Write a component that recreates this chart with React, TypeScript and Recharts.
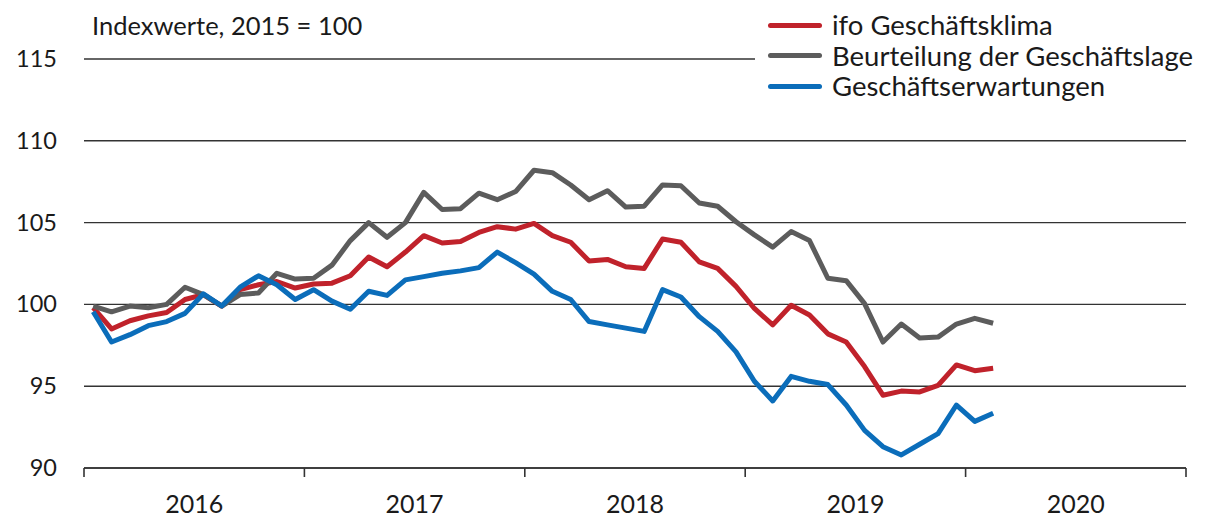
import React from 'react';
import {
  LineChart,
  Line,
  XAxis,
  YAxis,
  CartesianGrid,
} from 'recharts';

// months since Jan 2016, Jan 2016 .. Feb 2020
const klima = [
  99.8, 98.5, 99.0, 99.3, 99.5, 100.3, 100.6, 99.9, 100.9, 101.2, 101.4, 101.0,
  101.25, 101.3, 101.75, 102.9, 102.3, 103.2, 104.2, 103.75, 103.85, 104.4, 104.75, 104.6,
  104.95, 104.2, 103.8, 102.65, 102.75, 102.3, 102.2, 104.0, 103.8, 102.6, 102.2, 101.1,
  99.75, 98.75, 99.95, 99.35, 98.2, 97.7, 96.2, 94.45, 94.7, 94.65, 95.05, 96.3,
  95.95, 96.1,
];

const lage = [
  99.9, 99.55, 99.9, 99.8, 100.0, 101.05, 100.6, 99.9, 100.6, 100.7, 101.9, 101.55,
  101.6, 102.4, 103.9, 105.0, 104.1, 105.0, 106.85, 105.8, 105.85, 106.8, 106.4, 106.9,
  108.2, 108.05, 107.3, 106.4, 106.95, 105.95, 106.0, 107.3, 107.25, 106.2, 106.0, 105.05,
  104.25, 103.5, 104.45, 103.9, 101.6, 101.45, 100.05, 97.7, 98.8, 97.95, 98.0, 98.8,
  99.15, 98.85,
];

const erwartungen = [
  99.55, 97.7, 98.15, 98.7, 98.95, 99.45, 100.65, 99.9, 101.05, 101.75, 101.2, 100.3,
  100.9, 100.2, 99.7, 100.8, 100.55, 101.5, 101.7, 101.9, 102.05, 102.25, 103.2, 102.55,
  101.85, 100.8, 100.3, 98.95, 98.75, 98.55, 98.35, 100.9, 100.45, 99.25, 98.35, 97.1,
  95.3, 94.1, 95.6, 95.3, 95.1, 93.85, 92.3, 91.3, 90.8, 91.45, 92.1, 93.85,
  92.85, 93.35,
];

const years = ['2016', '2017', '2018', '2019', '2020'];
const yearTicks = [0, 12, 24, 36, 48, 60];
const yTicks = [90, 95, 100, 105, 110, 115];

const seriesInfo = [
  { key: 'klima', name: 'ifo Geschäftsklima', color: '#c0222b' },
  { key: 'lage', name: 'Beurteilung der Geschäftslage', color: '#5c5c5c' },
  { key: 'erwartungen', name: 'Geschäftserwartungen', color: '#0b6dba' },
];

const data = klima.map((v, i) => ({
  m: i + 0.5,
  klima: v,
  lage: lage[i],
  erwartungen: erwartungen[i],
}));

const FONT = 'Lato, "Noto Sans", sans-serif';
const YEAR_PX = (1186 - 84) / 5;

const YearTick = (props: any) => {
  const { x, y, payload } = props;
  const idx = yearTicks.indexOf(payload.value);
  if (idx < 0 || idx >= years.length) return null;
  return (
    <text x={x + YEAR_PX / 2} y={y + 34} textAnchor="middle" fontSize={25} fill="#1a1a1a" fontFamily={FONT}>
      {years[idx]}
    </text>
  );
};

const ValueTick = (props: any) => {
  const { y, payload } = props;
  return (
    <text x={57} y={y + 8} textAnchor="end" fontSize={23.5} fill="#1a1a1a" fontFamily={FONT}>
      {payload.value}
    </text>
  );
};

export default function App() {
  return (
    <div style={{ position: 'absolute', left: 0, top: 0, width: 1206, height: 518, background: '#fff' }}>
      <LineChart width={1206} height={518} data={data} margin={{ top: 59, right: 20, bottom: 10, left: 0 }}>
        <CartesianGrid vertical={false} stroke="#333" strokeWidth={1.4} />
        <XAxis
          dataKey="m"
          type="number"
          domain={[0, 60]}
          ticks={yearTicks}
          height={40}
          tickSize={9}
          axisLine={{ stroke: '#333', strokeWidth: 1.6 }}
          tickLine={{ stroke: '#333', strokeWidth: 1.6 }}
          tick={<YearTick />}
          interval={0}
        />
        <YAxis
          type="number"
          domain={[90, 115]}
          ticks={yTicks}
          width={84}
          axisLine={false}
          tickLine={false}
          tick={<ValueTick />}
          interval={0}
        />
        {seriesInfo.map((s) => (
          <Line
            key={s.key}
            dataKey={s.key}
            name={s.name}
            stroke={s.color}
            strokeWidth={5}
            dot={false}
            type="linear"
            strokeLinejoin="round"
            isAnimationActive={false}
          />
        ))}
      </LineChart>
      <div
        style={{
          position: 'absolute',
          left: 92,
          top: 10,
          fontSize: 25.5,
          fontFamily: FONT,
          color: '#1a1a1a',
          whiteSpace: 'nowrap',
        }}
      >
        Indexwerte, 2015 = 100
      </div>
      <div
        style={{
          position: 'absolute',
          left: 755,
          top: 10,
          width: 451,
          background: '#fff',
          paddingLeft: 13,
          boxSizing: 'border-box',
          fontFamily: FONT,
        }}
      >
        {seriesInfo.map((s) => (
          <div key={s.key} style={{ display: 'flex', alignItems: 'center', height: 30.5 }}>
            <span style={{ display: 'inline-block', width: 54, height: 5, borderRadius: 3, background: s.color }} />
            <span style={{ marginLeft: 10, fontSize: 27.5, color: '#1a1a1a', lineHeight: '30px', whiteSpace: 'nowrap' }}>
              {s.name}
            </span>
          </div>
        ))}
      </div>
    </div>
  );
}
